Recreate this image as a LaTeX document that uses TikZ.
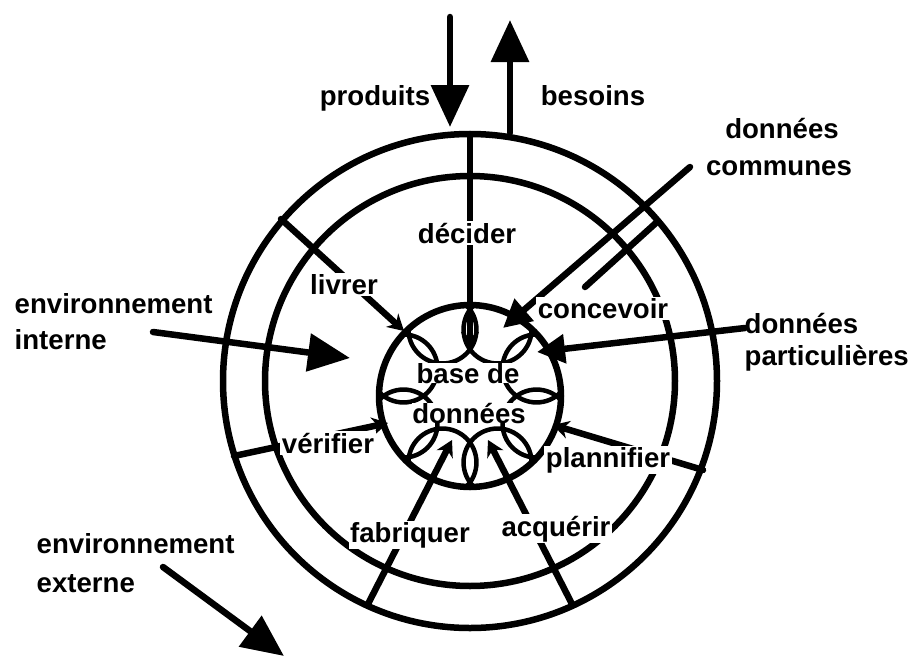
\documentclass[tikz,border=0pt]{standalone}
\usepackage{fontspec}
\setmainfont{Liberation Sans}
\usetikzlibrary{arrows.meta}
\begin{document}
\begin{tikzpicture}[x=1pt,y=-1pt,line cap=round,
  lw/.style={line width=6.5pt},
  lbl/.style={font=\fontsize{27.6}{32}\selectfont\bfseries,inner sep=1.5pt},
  wlbl/.style={lbl,fill=white},
  bigarrow/.style={lw,-{Triangle[length=42pt,width=37pt]}},
  midarrow/.style={lw,-{Triangle[length=28pt,width=28pt]}},
  inarrow/.style={lw,-{Stealth[length=16pt,width=18pt]}},
  lobe/.style={line width=4.5pt}]
\useasboundingbox (0,0) rectangle (914,659);
% centres
\coordinate (C) at (470,381);
\coordinate (S) at (470,396);
% rings
\draw[lw] (C) circle[radius=247];
\draw[lw] (C) circle[radius=205];
\draw[lw] (S) circle[radius=91];
% lobes inside the data base circle
\begin{scope}
  \clip (S) circle[radius=89];
  \begin{scope}[shift={(470,396)}]
    \foreach \a in {22.5,67.5,...,337.5}
      \draw[lobe] (\a:72) circle[radius=34];
  \end{scope}
\end{scope}
% spokes
\coordinate (dOut) at (470,134);  \coordinate (dTip) at (470,348);
\coordinate (lOut) at (281,219);  \coordinate (lTip) at (404,331);
\coordinate (cOut) at (657,222);  \coordinate (cIn)  at (585,287);
\coordinate (pOut) at (703,470);  \coordinate (pTip) at (553,425);
\coordinate (aOut) at (572,604);  \coordinate (aTip) at (488,440);
\coordinate (fOut) at (368,604);  \coordinate (fTip) at (452,440);
\coordinate (vOut) at (234,456);  \coordinate (vTip) at (388,423);
\draw[inarrow] (dOut) -- (dTip);
\draw[inarrow] (lOut) -- (lTip);
\draw[lw] (cOut) -- (cIn);
\draw[inarrow] (pOut) -- (pTip);
\draw[inarrow] (aOut) -- (aTip);
\draw[inarrow] (fOut) -- (fTip);
\draw[inarrow] (vOut) -- (vTip);
% external flows
\coordinate (prodA) at (450,17);  \coordinate (prodB) at (450,127);
\coordinate (besA) at (510,133);  \coordinate (besB) at (510,20);
\coordinate (intA) at (153,332);  \coordinate (intB) at (350,358);
\coordinate (extA) at (163,567);  \coordinate (extB) at (284,656);
\coordinate (comA) at (690,167);  \coordinate (comB) at (503,328);
\coordinate (parA) at (745,328);  \coordinate (parB) at (537,352);
\draw[bigarrow] (prodA) -- (prodB);
\draw[bigarrow] (besA) -- (besB);
\draw[bigarrow] (intA) -- (intB);
\draw[bigarrow] (extA) -- (extB);
\draw[midarrow] (comA) -- (comB);
\draw[midarrow] (parA) -- (parB);
% activity labels
\node[wlbl,anchor=base] (decider) at (467,243) {décider};
\node[wlbl,anchor=base] (livrer) at (344,294) {livrer};
\node[wlbl,anchor=base] (concevoir) at (603,318) {concevoir};
\node[wlbl,anchor=base] (plannifier) at (608,467) {plannifier};
\node[wlbl,anchor=base] (acquerir) at (556,536) {acquérir};
\node[wlbl,anchor=base] (fabriquer) at (410,542) {fabriquer};
\node[wlbl,anchor=base] (verifier) at (328,453) {vérifier};
% data base
\node[lbl,anchor=base,fill=white,inner sep=0pt] (base1) at (468,383) {base de};
\node[lbl,anchor=base,fill=white,inner sep=0pt] (base2) at (469,423) {données};
% outer labels
\node[lbl,anchor=base] (produits) at (375,105) {produits};
\node[lbl,anchor=base] (besoins) at (593,105) {besoins};
\node[lbl,anchor=base west] (envi1) at (13,313) {environnement};
\node[lbl,anchor=base west] (envi2) at (13,349) {interne};
\node[lbl,anchor=base west] (enve1) at (35,553) {environnement};
\node[lbl,anchor=base west] (enve2) at (35,592) {externe};
\node[lbl,anchor=base] (com1) at (782,138) {données};
\node[lbl,anchor=base] (com2) at (779,175) {communes};
\node[lbl,anchor=base west] (par1) at (743,333) {données};
\node[lbl,anchor=base west] (par2) at (743,365) {particulières};
\end{tikzpicture}
\end{document}
